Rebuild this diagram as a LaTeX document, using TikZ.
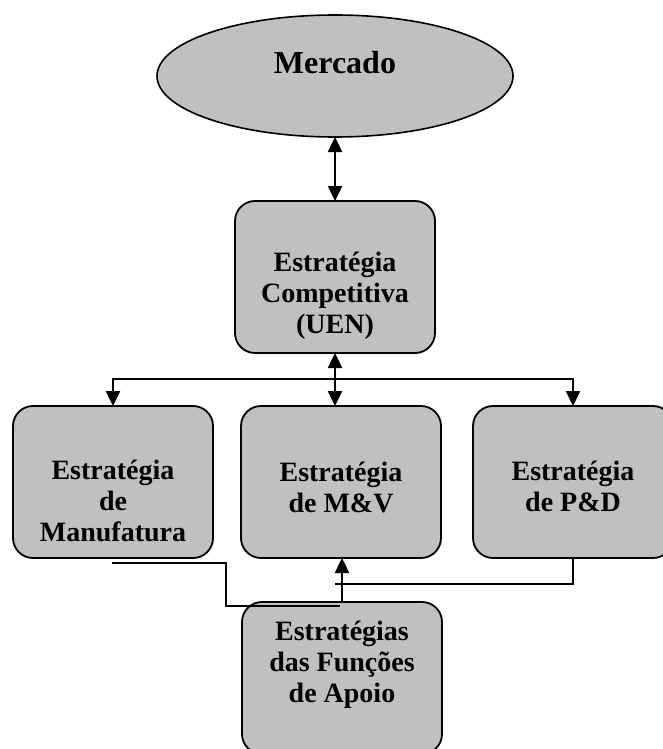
\documentclass[tikz,border=0pt]{standalone}
\usepackage{fontspec}
\setmainfont{Liberation Serif}
\usetikzlibrary{arrows.meta}
\usetikzlibrary{positioning}
\usetikzlibrary{shapes.geometric}

\definecolor{boxgray}{RGB}{192,192,192}

\tikzset{
  block/.style={draw, line width=1.8pt, fill=boxgray, rounded corners=20pt,
    minimum width=200pt, minimum height=152pt, inner sep=0pt, outer sep=0pt},
  market/.style={draw, ellipse, line width=1.6pt, fill=boxgray,
    minimum width=356pt, minimum height=122pt, inner sep=0pt, outer sep=0pt},
  lbl/.style={align=center, font=\bfseries\fontsize{28}{31}\selectfont},
  wire/.style={line width=2.4pt},
  tip/.style={wire, -{Triangle[length=15pt, width=14pt]}},
  bitip/.style={wire, {Triangle[length=15pt, width=14pt]}-{Triangle[length=15pt, width=14pt]}}
}

\begin{document}
\begin{tikzpicture}[x=1pt, y=1pt]

    \useasboundingbox (0,0) rectangle (663,-749);

    \node[market] (mercado) at (335,-76) {};
    \node[block] (uen) [below = 64pt of mercado] {};
    \node[block] (s_mv) [below = 53pt of uen, xshift=6pt] {};
    \node[block] (s_man) [left = 28pt of s_mv] {};
    \node[block] (s_pd) [right = 32pt of s_mv] {};
    \node[block] (s_apoio) [below = 44pt of s_mv, xshift=1pt] {};

    % texts
    \node[font=\bfseries\fontsize{32}{36}\selectfont] (t_mercado) [yshift=13pt] at (mercado) {Mercado};
    \node[lbl] (t_uen) [yshift=-19pt] at (uen) {Estratégia\\Competitiva\\(UEN)};
    \node[lbl] (t_man) [yshift=-19pt] at (s_man) {Estratégia\\de\\Manufatura};
    \node[lbl] (t_mv) [yshift=-5pt] at (s_mv) {Estratégia\\de M\&V};
    \node[lbl] (t_pd) [yshift=-4pt] at (s_pd) {Estratégia\\de P\&D};
    \node[lbl] (t_apoio) [yshift=13pt] at (s_apoio) {Estratégias\\das Funções\\de Apoio};

    \coordinate[below = 26pt of uen.south] (split);
    \coordinate[below = 5pt of s_man.south, xshift=-1pt] (man_foot);
    \coordinate[below = 4pt of s_apoio.north, xshift=-2pt] (apoio_join);
    \coordinate[below = 26pt of s_mv.south, xshift=-6pt] (pd_join);

    \draw[bitip] (mercado.south) -- (uen.north);
    \draw[bitip] (uen.south) -- (uen.south |- s_mv.north);
    \draw[tip] (split) -| (s_man.north);
    \draw[tip] (split) -| (s_pd.north);

    \draw[wire] (man_foot) -- ++(114,0) |- (apoio_join);
    \draw[wire] (s_pd.south) |- (pd_join);
    \draw[tip] (s_apoio.north) -- (s_apoio.north |- s_mv.south);

\end{tikzpicture}
\end{document}
